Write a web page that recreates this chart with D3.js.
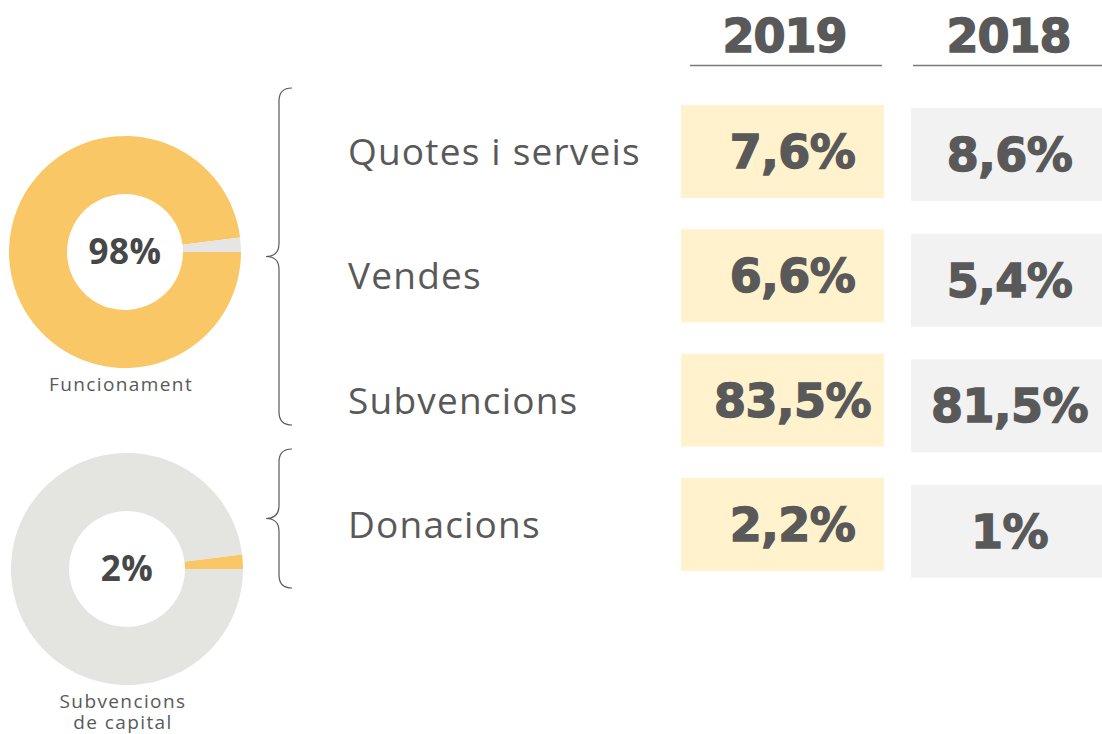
<!DOCTYPE html>
<html>
<head>
<meta charset="utf-8">
<script src="https://cdn.jsdelivr.net/npm/d3@7"></script>
<style>
  body { margin: 0; background: #fff; }
  svg { display: block; }
</style>
</head>
<body>
<div id="chart"></div>
<script>
// Data
const categories = ["Quotes i serveis", "Vendes", "Subvencions", "Donacions"];
const years = ["2019", "2018"];
const values2019 = [7.6, 6.6, 83.5, 2.2];
const values2018 = [8.6, 5.4, 81.5, 1];
const groupNames = [["Funcionament"], ["Subvencions", "de capital"]];
const groupShares = [98, 2];

const width = 1102, height = 734;
const yellow = "#F9C766", grey = "#E4E4E1";
const textColor = "#595959";

const svg = d3.select("#chart")
    .append("svg")
    .attr("width", width)
    .attr("height", height);

// Row scale for the categories
const y = d3.scaleBand()
    .domain(categories)
    .range([90, 587]);

// Column scale for the years
const x = d3.scaleOrdinal()
    .domain(years)
    .range([681, 911]);
const colWidth = [203, 191];

const fmt = v => String(v).replace(".", ",") + "%";

// Year headers
years.forEach((yr, i) => {
    svg.append("text")
        .attr("x", x(yr) + colWidth[i] / 2 + 2)
        .attr("y", 52)
        .attr("text-anchor", "middle")
        .style("font-family", "DejaVu Sans")
        .style("font-weight", "bold")
        .style("font-size", "46px")
        .style("letter-spacing", "-1px")
        .style("fill", textColor)
        .style("stroke", textColor)
        .style("stroke-width", 1.4)
        .text(yr);

    svg.append("line")
        .attr("x1", i === 0 ? 690 : 913)
        .attr("x2", i === 0 ? 882 : 1102)
        .attr("y1", 65.5)
        .attr("y2", 65.5)
        .style("stroke", "#7a7a7a")
        .style("stroke-width", 1.3);
});

// Category labels
svg.selectAll(".cat-label")
    .data(categories)
    .enter().append("text")
    .attr("class", "cat-label")
    .attr("x", 348)
    .attr("y", d => y(d) + y.bandwidth() / 2 + 13)
    .style("font-family", "'Open Sans'")
    .style("font-size", "37px")
    .style("letter-spacing", "1.2px")
    .style("fill", textColor)
    .text(d => d);

// Value boxes
const boxH = 93;
[values2019, values2018].forEach((vals, i) => {
    const g = svg.append("g");
    g.selectAll("rect")
        .data(vals)
        .enter().append("rect")
        .attr("x", x(years[i]))
        .attr("y", (d, j) => y(categories[j]) + y.bandwidth() / 2 - 47 + (i === 1 ? 3 + j * 1.3 : 0))
        .attr("width", colWidth[i])
        .attr("height", boxH)
        .style("fill", i === 0 ? "#FFF2CC" : "#F2F2F2");

    g.selectAll("text")
        .data(vals)
        .enter().append("text")
        .attr("x", x(years[i]) + colWidth[i] / 2 + (i === 0 ? 10 : 3))
        .attr("y", (d, j) => y(categories[j]) + y.bandwidth() / 2 + 16 + (i === 1 ? 3 + j * 1.3 : 0))
        .attr("text-anchor", "middle")
        .style("font-family", "DejaVu Sans")
        .style("font-weight", "bold")
        .style("font-size", "46px")
        .style("letter-spacing", "-0.5px")
        .style("fill", textColor)
        .style("stroke", textColor)
        .style("stroke-width", 1.4)
        .text(d => fmt(d));
});

// Braces
function brace(top, bottom) {
    const x0 = 266, x1 = 279, x2 = 292, r = 13;
    const mid = (top + bottom) / 2;
    return `M${x2},${top} Q${x1},${top} ${x1},${top + r} L${x1},${mid - r} Q${x1},${mid} ${x0},${mid}` +
        ` Q${x1},${mid} ${x1},${mid + r} L${x1},${bottom - r} Q${x1},${bottom} ${x2},${bottom}`;
}
const braceSpans = [[88, 425], [449, 588]];
braceSpans.forEach(s => {
    svg.append("path")
        .attr("d", brace(s[0], s[1]))
        .style("fill", "none")
        .style("stroke", textColor)
        .style("stroke-width", 1.2);
});

// Donuts
const pie = d3.pie().sort(null)
    .startAngle(Math.PI / 2)
    .endAngle(Math.PI / 2 + 2 * Math.PI);
const arc = d3.arc().innerRadius(58).outerRadius(116);
const donutCenters = [[125, 252], [127, 569]];

groupShares.forEach((share, i) => {
    const [cx, cy] = donutCenters[i];
    const g = svg.append("g").attr("transform", `translate(${cx},${cy})`);
    // first slice = rest, second slice = share ending at 3 o'clock
    const parts = i === 0
        ? [{ v: share, c: yellow }, { v: 100 - share, c: "#E5E5E5" }]
        : [{ v: 100 - share, c: grey }, { v: share, c: yellow }];
    g.selectAll("path")
        .data(pie.value(d => d.v)(parts))
        .enter().append("path")
        .attr("d", arc)
        .style("fill", d => d.data.c);

    g.append("text")
        .attr("y", 12)
        .attr("text-anchor", "middle")
        .style("font-family", "'Open Sans'")
        .style("font-weight", "bold")
        .style("font-size", "35px")
        .style("letter-spacing", "0.5px")
        .style("fill", "#474747")
        .text(share + "%");

    // group label, one text per line
    svg.selectAll(".group-label-" + i)
        .data(groupNames[i])
        .enter().append("text")
        .attr("class", "group-label-" + i)
        .attr("x", cx - 4)
        .attr("y", (d, j) => cy + 139 + j * 21)
        .attr("text-anchor", "middle")
        .style("font-family", "'Open Sans'")
        .style("font-size", "19px")
        .style("letter-spacing", "1.4px")
        .style("fill", textColor)
        .text(d => d);
});
</script>
</body>
</html>
